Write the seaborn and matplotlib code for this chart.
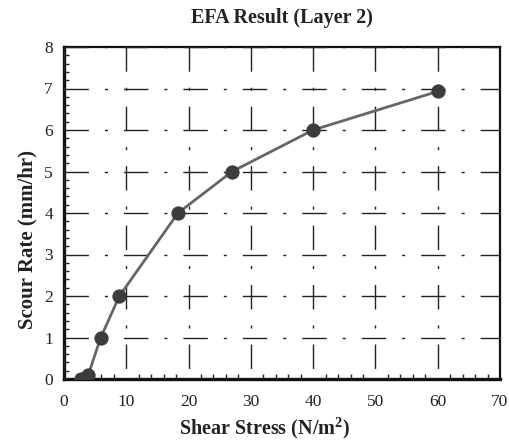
import matplotlib
matplotlib.use("Agg")
import matplotlib.pyplot as plt
import seaborn as sns
import pandas as pd
from matplotlib.ticker import MultipleLocator

shear_stress = [2.8, 3.9, 5.9, 8.9, 18.3, 27.0, 40.0, 60.0]
scour_rate = [0.0, 0.1, 1.0, 2.0, 4.0, 5.0, 6.0, 6.93]
x_ticks = [0, 10, 20, 30, 40, 50, 60, 70]
y_ticks = [0, 1, 2, 3, 4, 5, 6, 7, 8]

df = pd.DataFrame({"x": shear_stress, "y": scour_rate})

sns.set_style("white")
plt.rcParams["font.family"] = ["Liberation Serif", "DejaVu Serif"]
plt.rcParams["mathtext.fontset"] = "custom"
plt.rcParams["mathtext.rm"] = "Liberation Serif"
plt.rcParams["mathtext.bf"] = "Liberation Serif:bold"
plt.rcParams.update({
    "xtick.bottom": True, "ytick.left": True,
    "xtick.top": False, "ytick.right": False,
    "xtick.minor.bottom": True, "ytick.minor.left": True,
    "xtick.direction": "in", "ytick.direction": "in",
    "xtick.minor.size": 3.5, "ytick.minor.size": 3.5,
    "xtick.minor.width": 1.0, "ytick.minor.width": 1.0,
    "xtick.major.size": 0, "ytick.major.size": 0,
    "xtick.minor.visible": True, "ytick.minor.visible": True,
    "xtick.color": "#222222", "ytick.color": "#222222",
})

fig = plt.figure(figsize=(5.10, 4.42), dpi=100)
ax = fig.add_axes([64 / 510, 1 - 379 / 442, 436 / 510, 332 / 442])

sns.lineplot(data=df, x="x", y="y", ax=ax, color="#666666", linewidth=2.0,
             marker="o", markersize=9.5, markerfacecolor="#3c3c3c",
             markeredgecolor="#3c3c3c", zorder=5)

ax.set_xlim(0, 70)
ax.set_ylim(0, 8)
ax.set_xticks(x_ticks)
ax.set_yticks(y_ticks)
ax.set_xticklabels([str(v) for v in x_ticks])
ax.set_yticklabels([str(v) for v in y_ticks])
ax.xaxis.set_minor_locator(MultipleLocator(2))
ax.yaxis.set_minor_locator(MultipleLocator(0.2))
ax.xaxis.set_tick_params(which="minor", bottom=True, length=3.5, width=1.0,
                         direction="in", color="#222222")
ax.yaxis.set_tick_params(which="minor", left=True, length=3.5, width=1.0,
                         direction="in", color="#222222")
ax.tick_params(axis="both", which="major", labelsize=12.5, labelcolor="#222222")
ax.tick_params(axis="x", which="major", length=0, pad=11)
ax.tick_params(axis="y", which="major", length=0, pad=8)

pattern = (17.6, 11.5, 2.2, 11.5)
ax.yaxis.grid(True, which="major", color="#222222", linewidth=1.0,
              linestyle=(0, pattern))
ax.xaxis.grid(True, which="major", color="#222222", linewidth=1.0,
              linestyle=(35.2, pattern))
ax.set_axisbelow(False)

for side in ["left", "bottom"]:
    ax.spines[side].set_linewidth(2.4)
    ax.spines[side].set_color("#111111")
for side in ["top", "right"]:
    ax.spines[side].set_linewidth(1.6)
    ax.spines[side].set_color("#111111")
    ax.spines[side].set_visible(True)

ax.set_xlabel(r"Shear Stress (N/m$^\mathbf{2}$)", fontsize=14.5, fontweight="bold",
              color="#222222")
ax.xaxis.set_label_coords(0.46, -0.108)
ax.set_ylabel("Scour Rate (mm/hr)", fontsize=15, fontweight="bold",
              color="#222222")
ax.yaxis.set_label_coords(-0.06, 0.42)
ax.set_title("EFA Result (Layer 2)", fontsize=14.5, fontweight="bold",
             color="#222222", pad=17)

fig.savefig("out.png", dpi=100)
